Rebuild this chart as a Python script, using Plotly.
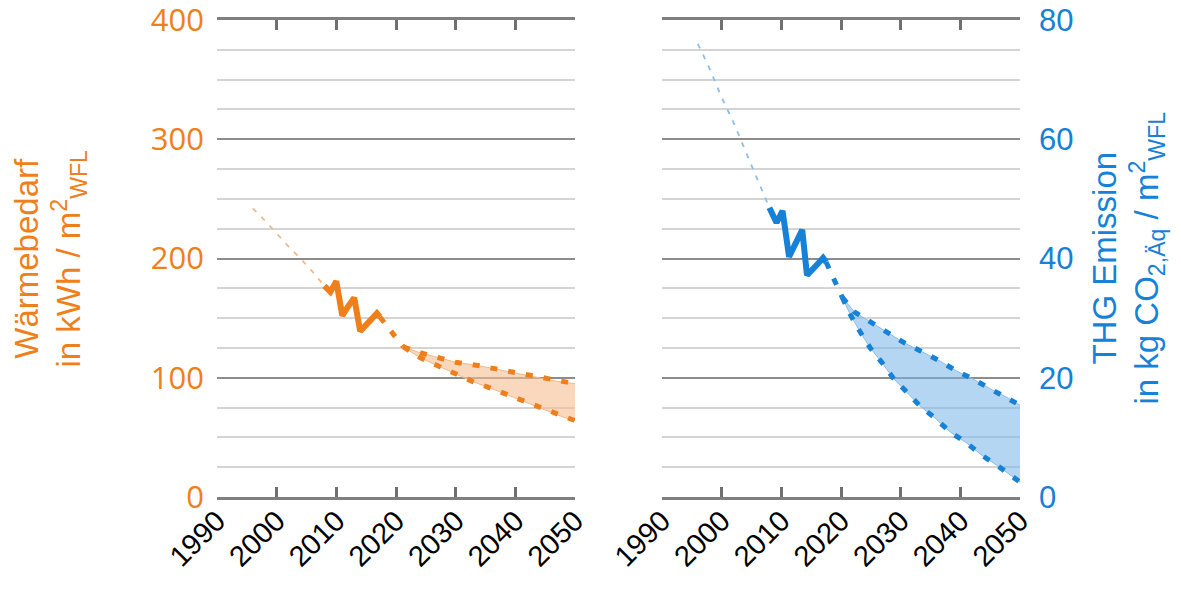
import plotly.graph_objects as go

# ---------------- data ----------------
years_ticks = [1990, 2000, 2010, 2020, 2030, 2040, 2050]

# Wärmebedarf (kWh/m²)
heat_hist_dot_x = [1996, 1998, 2000, 2002, 2004, 2006, 2008]
heat_hist_dot_y = [242, 232, 221, 210, 200, 189, 177]
heat_meas_x = [2008, 2009, 2010, 2011, 2012, 2013, 2014, 2015, 2016, 2016.8, 2017.3]
heat_meas_y = [177, 172, 181, 152, 160, 167, 139, 145, 150, 154, 151]
heat_trans_x = [2017.3, 2019.3, 2021.2]
heat_trans_y = [151, 137.5, 126]
heat_up_x = [2021.2, 2024, 2027, 2030, 2034, 2037, 2040, 2044, 2047, 2050]
heat_up_y = [126, 121, 117, 113, 110, 107, 104, 100, 97, 95]
heat_lo_x = [2021.2, 2024, 2027, 2030, 2033, 2036, 2039, 2042, 2045, 2048, 2050]
heat_lo_y = [126, 117, 110, 103, 96.5, 91, 85, 79.5, 73, 67, 64]

# THG Emission (kg CO2,Äq/m²)
ghg_hist_dot_x = [1996, 1998, 2000, 2002, 2004, 2006, 2008]
ghg_hist_dot_y = [76, 71.8, 67, 62.8, 58, 53.2, 48.5]
ghg_meas_x = [2008, 2009.2, 2010.2, 2011.3, 2013.5, 2014.3, 2016, 2017, 2017.5]
ghg_meas_y = [48.5, 46, 48, 40.3, 44.8, 37.2, 39, 40.1, 39.4]
ghg_trans_x = [2017.5, 2018.7, 2020.2]
ghg_trans_y = [39.4, 36.6, 33.5]
ghg_up_x = [2020.2, 2022.3, 2025.2, 2028, 2030.7, 2033.7, 2036.6, 2039.4, 2042.1, 2045.1, 2048, 2050]
ghg_up_y = [33.5, 31, 29.2, 27.5, 25.8, 24.3, 22.8, 21.1, 19.8, 18.1, 16.6, 15.4]
ghg_lo_x = [2020.2, 2021.5, 2023.2, 2024.9, 2026.9, 2028.7, 2031, 2033.2, 2035.8, 2038.3, 2041, 2043.6, 2046.3, 2048.8, 2050]
ghg_lo_y = [33.5, 30.7, 27.7, 25, 22.5, 20, 17.6, 15.3, 13.2, 10.9, 9.1, 7.0, 5.2, 3.4, 2.5]

# ---------------- styles ----------------
ORANGE = "#EF7F1A"
ORANGE_LIGHT = "#F5B887"
ORANGE_FILL = "rgba(246,190,145,0.6)"
BLUE = "#1581D7"
BLUE_LIGHT = "#8DBDE8"
BLUE_FILL = "rgba(120,180,232,0.55)"
AX = "#7f7f7f"
FONT = "Liberation Sans, Arial, sans-serif"

fig = go.Figure()


def add_series(xa, ya, col, col_light, fill,
               dx, dy, mx, my, tx, ty, ux, uy, lx, ly):
    kw = dict(xaxis=xa, yaxis=ya, mode="lines", showlegend=False, hoverinfo="skip")
    # fill between scenarios
    fig.add_trace(go.Scatter(x=ux, y=uy, line=dict(color=col_light, width=1), **kw))
    fig.add_trace(go.Scatter(x=lx, y=ly, line=dict(color=col_light, width=1),
                             fill="tonexty", fillcolor=fill, **kw))
    # historic dotted
    fig.add_trace(go.Scatter(x=dx, y=dy, line=dict(color=col_light, width=1.8, dash="5px,7px"), **kw))
    # measured solid
    fig.add_trace(go.Scatter(x=mx, y=my, line=dict(color=col, width=6), **kw))
    # dashed transition + scenarios
    for X, Y in ((tx, ty), (ux, uy), (lx, ly)):
        fig.add_trace(go.Scatter(x=X, y=Y, line=dict(color=col, width=5, dash="7px,11px"), **kw))


add_series("x", "y", ORANGE, ORANGE_LIGHT, ORANGE_FILL,
           heat_hist_dot_x, heat_hist_dot_y, heat_meas_x, heat_meas_y,
           heat_trans_x, heat_trans_y, heat_up_x, heat_up_y, heat_lo_x, heat_lo_y)
add_series("x2", "y2", BLUE, BLUE_LIGHT, BLUE_FILL,
           ghg_hist_dot_x, ghg_hist_dot_y, ghg_meas_x, ghg_meas_y,
           ghg_trans_x, ghg_trans_y, ghg_up_x, ghg_up_y, ghg_lo_x, ghg_lo_y)

# empty traces so that the label-only overlay axes get drawn
fig.add_trace(go.Scatter(x=[], y=[], xaxis="x3", yaxis="y", showlegend=False, hoverinfo="skip"))
fig.add_trace(go.Scatter(x=[], y=[], xaxis="x4", yaxis="y2", showlegend=False, hoverinfo="skip"))

W, H = 1181, 590
L1, R1 = 217, 575
L2, R2 = 662, 1020
LAB = 10  # px: tick labels sit slightly right of their tick, as in the original

xcommon = dict(range=[1990, 2050], tickvals=years_ticks, showticklabels=False,
               ticks="inside", ticklen=10, tickwidth=3, tickcolor="#707070",
               showline=True, linewidth=3, linecolor=AX, mirror="ticks",
               showgrid=False, zeroline=False, automargin=False, fixedrange=True)

xlabels = dict(range=[1990, 2050], tickvals=years_ticks,
               ticktext=[str(v) for v in years_ticks], ticks="", showline=False,
               showgrid=False, zeroline=False, tickangle=-45, automargin=False,
               ticklabeloverflow="allow", side="bottom",
               tickfont=dict(family=FONT, size=29, color="black"), fixedrange=True)

ycommon = dict(showgrid=True, gridcolor="#8c8c8c", gridwidth=2,
               zeroline=False, showline=False, ticks="", fixedrange=True,
               automargin=False, ticklabeloverflow="allow")

fig.update_layout(
    width=W, height=H,
    margin=dict(l=0, r=0, t=20, b=93),
    paper_bgcolor="white", plot_bgcolor="white",
    xaxis=dict(domain=[L1 / W, R1 / W], anchor="y", **xcommon),
    xaxis2=dict(domain=[L2 / W, R2 / W], anchor="y2", **xcommon),
    xaxis3=dict(domain=[(L1 + LAB) / W, (R1 + LAB) / W], anchor="free", position=0,
                overlaying="x", **xlabels),
    xaxis4=dict(domain=[(L2 + LAB) / W, (R2 + LAB) / W], anchor="free", position=0,
                overlaying="x2", **xlabels),
    yaxis=dict(anchor="x", range=[0, 400], dtick=100, ticklabelstandoff=12,
               tickfont=dict(family="Open Sans, sans-serif", size=31, color=ORANGE),
               minor=dict(dtick=25, showgrid=True, gridcolor="#d4d4d4", gridwidth=1.5),
               **ycommon),
    yaxis2=dict(anchor="x2", side="right", range=[0, 80], dtick=20, ticklabelstandoff=18,
                tickfont=dict(family=FONT, size=31, color=BLUE),
                minor=dict(dtick=5, showgrid=True, gridcolor="#d4d4d4", gridwidth=1.5),
                **ycommon),
    annotations=[
        dict(text="Wärmebedarf<br>in kWh / m<sup>2</sup><sub>WFL</sub>",
             xref="paper", yref="paper", x=50 / W, y=0.5, xanchor="center", yanchor="middle",
             textangle=-90, showarrow=False,
             font=dict(family=FONT, size=33, color=ORANGE)),
        dict(text="THG Emission<br>in kg CO<sub>2,Äq</sub> / m<sup>2</sup><sub>WFL</sub>",
             xref="paper", yref="paper", x=1128 / W, y=0.5, xanchor="center", yanchor="middle",
             textangle=-90, showarrow=False,
             font=dict(family=FONT, size=33, color=BLUE)),
    ],
)

fig.write_html("out.html", config={"displayModeBar": False},
               post_script="document.body.style.margin='0';")
